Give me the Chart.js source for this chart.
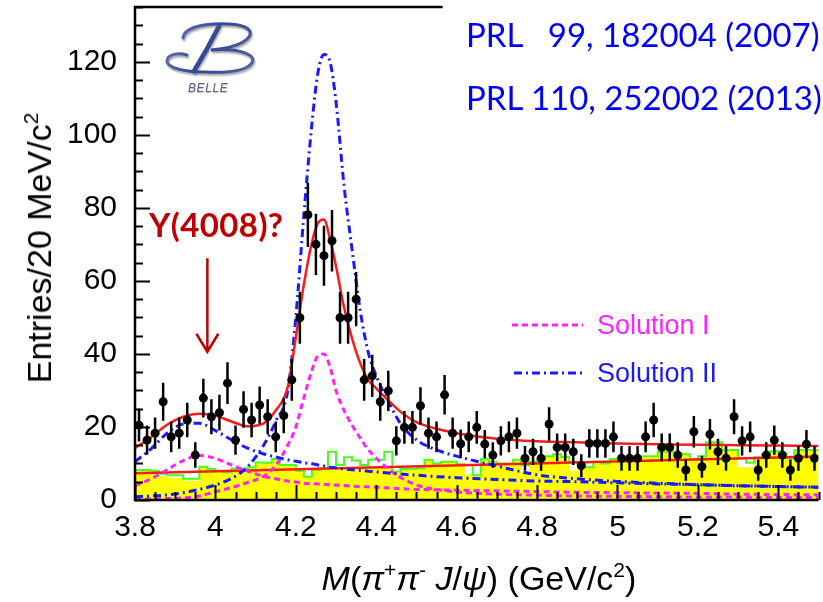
<!DOCTYPE html>
<html>
<head>
<meta charset="utf-8">
<script src="https://cdn.jsdelivr.net/npm/chart.js@4.4.1/dist/chart.umd.min.js"></script>
<style>
  html, body { margin: 0; padding: 0; background: #fff; }
  #wrap { position: relative; width: 823px; height: 602px; overflow: hidden; }
  #chart { position: absolute; left: 0; top: 0; }
  .txt { position: absolute; white-space: pre; line-height: 1; }
  .sup { font-size: 0.62em; position: relative; top: -0.62em; }
  .sans { font-family: 'Liberation Sans', Arial, sans-serif; }
  .cal { font-family: Lato, 'Open Sans', sans-serif; }
</style>
</head>
<body>
<div id="wrap">
  <canvas id="chart" width="823" height="602"></canvas>
  <div class="txt sans" id="ytitle" style="font-size:34px;left:39px;top:248px;transform:translate(-50%,-50%) rotate(-90deg);">Entries/20 MeV/c<span class="sup">2</span></div>
  <div class="txt sans" id="xtitle" style="font-size:34px;left:479px;top:561px;transform:translateX(-50%);"><i>M</i>(<i>π</i><span class="sup">+</span><i>π</i><span class="sup">-</span> <i>J</i>/<i>ψ</i>) (GeV/c<span class="sup">2</span>)</div>
  <div class="txt cal" style="font-size:33px;left:466px;top:18px;color:#0000ff;">PRL   99, 182004 (2007)</div>
  <div class="txt cal" style="font-size:33px;left:466px;top:81px;color:#0000ff;">PRL 110, 252002 (2013)</div>
  <div class="txt cal" style="font-size:33px;font-weight:bold;left:149px;top:208px;color:#c00000;letter-spacing:0.4px;">Y(4008)?</div>
  <div class="txt sans" style="font-size:27px;left:597px;top:312px;color:#ff22ff;">Solution I</div>
  <div class="txt sans" style="font-size:27px;left:597px;top:360px;color:#1a1aff;">Solution II</div>
  <div class="txt sans" style="font-size:12px;font-style:italic;left:188px;top:82px;color:#5d6488;letter-spacing:0.6px;text-shadow:0 1px 1px #bbb;">BELLE</div>
</div>
<script>
// bin centres (20 MeV bins) and measured entries
const massBins = [
  3.81, 3.83, 3.85, 3.87, 3.89, 3.91, 3.93, 3.95, 3.97, 3.99,
  4.01, 4.03, 4.05, 4.07, 4.09, 4.11, 4.13, 4.15, 4.17, 4.19,
  4.21, 4.23, 4.25, 4.27, 4.29, 4.31, 4.33, 4.35, 4.37, 4.39,
  4.41, 4.43, 4.45, 4.47, 4.49, 4.51, 4.53, 4.55, 4.57, 4.59,
  4.61, 4.63, 4.65, 4.67, 4.69, 4.71, 4.73, 4.75, 4.77, 4.79,
  4.81, 4.83, 4.85, 4.87, 4.89, 4.91, 4.93, 4.95, 4.97, 4.99,
  5.01, 5.03, 5.05, 5.07, 5.09, 5.11, 5.13, 5.15, 5.17, 5.19,
  5.21, 5.23, 5.25, 5.27, 5.29, 5.31, 5.33, 5.35, 5.37, 5.39,
  5.41, 5.43, 5.45, 5.47, 5.49
];
const entries = [
  20.5, 16.4, 18.3, 26.9, 17.3, 18.3, 21.9, 12.3, 27.9, 22.8,
  23.9, 32.0, 16.4, 24.8, 21.9, 26.0, 22.8, 17.3, 23.1, 32.9,
  49.9, 78.1, 70.0, 66.9, 71.0, 49.9, 49.9, 55.0, 32.9, 34.0,
  26.9, 29.9, 16.2, 19.9, 19.9, 25.8, 18.3, 17.3, 28.8, 18.3,
  15.4, 17.3, 19.9, 15.3, 12.3, 16.2, 17.3, 18.3, 11.4, 13.2,
  11.4, 20.8, 14.4, 14.4, 13.2, 9.4, 15.5, 15.5, 15.5, 17.3,
  11.4, 11.4, 11.4, 17.3, 21.9, 14.4, 14.4, 12.3, 8.2, 18.7,
  9.1, 18.0, 13.2, 11.4, 22.8, 16.2, 17.3, 8.2, 12.3, 16.4,
  12.3, 8.2, 11.4, 15.3, 11.4
];
const entryErrors = [
  4.5, 4.0, 4.3, 5.2, 4.2, 4.3, 4.7, 3.5, 5.3, 4.8,
  4.9, 5.7, 4.0, 5.0, 4.7, 5.1, 4.8, 4.2, 4.8, 5.7,
  7.1, 8.8, 8.4, 8.2, 8.4, 7.1, 7.1, 7.4, 5.7, 5.8,
  5.2, 5.5, 4.0, 4.5, 4.5, 5.1, 4.3, 4.2, 5.4, 4.3,
  3.9, 4.2, 4.5, 3.9, 3.5, 4.0, 4.2, 4.3, 3.4, 3.6,
  3.4, 4.6, 3.8, 3.8, 3.6, 3.1, 3.9, 3.9, 3.9, 4.2,
  3.4, 3.4, 3.4, 4.2, 4.7, 3.8, 3.8, 3.5, 2.9, 4.3,
  3.0, 4.2, 3.6, 3.4, 4.8, 4.0, 4.2, 2.9, 3.5, 4.0,
  3.5, 2.9, 3.4, 3.9, 3.4
];
// background histograms (same binning)
const sidebandYellow = [
  8.2, 8.2, 8.0, 6.5, 6.0, 6.0, 5.3, 5.3, 9.1, 8.5,
  8.0, 7.6, 8.6, 8.6, 9.0, 10.3, 10.2, 11.2, 9.6, 9.6,
  8.0, 6.4, 8.2, 8.6, 8.6, 8.6, 8.8, 8.8, 8.6, 8.8,
  9.0, 9.0, 7.8, 8.5, 8.5, 8.7, 11.0, 10.0, 10.5, 10.5,
  9.8, 7.0, 6.8, 11.2, 10.5, 10.0, 10.0, 11.0, 7.5, 10.5,
  11.0, 12.0, 12.5, 11.8, 8.0, 10.0, 9.0, 10.5, 10.0, 11.2,
  11.5, 11.6, 12.0, 12.0, 12.0, 13.2, 13.2, 12.8, 12.5, 11.2,
  12.0, 15.8, 15.8, 13.7, 13.7, 9.0, 9.0, 11.7, 12.5, 13.4,
  12.8, 11.4, 13.7, 13.7, 13.7
];
const histGreen = [
  8.2, 8.2, 8.0, 7.2, 6.8, 6.8, 5.8, 5.8, 9.1, 8.5,
  8.0, 7.6, 8.6, 8.6, 9.0, 10.3, 10.2, 11.2, 9.6, 9.6,
  8.0, 6.4, 8.2, 8.6, 13.2, 9.6, 11.7, 10.8, 9.6, 11.0,
  11.0, 13.2, 7.8, 8.5, 8.5, 8.7, 11.0, 10.0, 10.5, 10.5,
  9.8, 9.6, 6.8, 11.2, 10.5, 10.0, 10.0, 11.0, 9.5, 10.5,
  11.0, 12.0, 12.5, 11.8, 10.5, 10.0, 9.0, 10.5, 10.0, 11.2,
  11.5, 11.6, 12.0, 12.0, 12.0, 13.2, 13.2, 12.8, 12.5, 11.2,
  12.0, 15.8, 15.8, 13.7, 13.7, 11.5, 10.2, 11.7, 12.5, 13.4,
  12.8, 11.4, 13.7, 13.7, 13.7
];
const binHalfWidth = 0.01;

// fit curves, sampled off the figure
const curveMass = [
  3.80, 3.84, 3.88, 3.92, 3.96, 4.00, 4.04, 4.08, 4.12, 4.15,
  4.18, 4.20, 4.22, 4.24, 4.255, 4.27, 4.285, 4.30, 4.32, 4.34,
  4.36, 4.38, 4.40, 4.43, 4.46, 4.50, 4.55, 4.60, 4.70, 4.80,
  4.90, 5.00, 5.10, 5.20, 5.30, 5.40, 5.50
];
const fitTotal = [
  14.2, 17.2, 20.6, 22.8, 23.6, 23.1, 21.5, 20.2, 21.0, 24.5,
  31.0, 44.5, 59.0, 70.5, 75.8, 76.8, 71.5, 64.0, 52.7, 44.2,
  37.5, 32.9, 30.6, 27.3, 24.2, 21.3, 19.5, 18.3, 16.8, 16.1,
  15.8, 15.5, 15.3, 15.1, 15.0, 14.9, 14.8
];
const sol1Y4008 = [
  4.0, 5.8, 8.3, 10.8, 12.2, 11.4, 9.6, 7.9, 6.5, 5.8,
  5.2, 4.9, 4.6, 4.5, 4.4, 4.3, 4.2, 4.1, 4.0, 3.8,
  3.7, 3.6, 3.5, 3.3, 3.1, 2.9, 2.8, 2.7, 2.5, 2.3,
  2.1, 2.0, 1.9, 1.8, 1.6, 1.5, 1.4
];
const sol1Y4260 = [
  0.2, 0.3, 0.4, 0.6, 1.1, 2.3, 3.4, 4.8, 6.5, 9.5,
  15.0, 20.0, 28.0, 35.5, 39.5, 40.0, 36.5, 30.0, 24.5, 20.5,
  17.0, 13.8, 11.5, 8.5, 6.2, 4.1, 2.9, 2.2, 1.6, 1.3,
  1.1, 1.0, 0.9, 0.8, 0.8, 0.7, 0.7
];
const sol2Y4008 = [
  10.5, 14.0, 18.3, 20.8, 21.0, 19.0, 16.5, 14.2, 12.6, 11.8,
  11.0, 10.6, 10.2, 9.9, 9.6, 9.3, 9.0, 8.8, 8.5, 8.3,
  8.1, 7.9, 7.7, 7.4, 7.1, 6.8, 6.4, 6.1, 5.6, 5.2,
  5.0, 4.7, 4.4, 4.2, 3.9, 3.7, 3.5
];
const sol2Y4260 = [
  0.9, 1.1, 1.4, 2.0, 2.9, 4.1, 5.9, 9.1, 15.0, 21.5,
  30.0, 50.0, 78.0, 103.0, 117.0, 122.0, 120.0, 109.0, 86.0, 68.5,
  52.0, 40.5, 34.0, 27.0, 21.0, 16.5, 13.7, 12.0, 9.3, 6.9,
  5.8, 5.1, 4.6, 4.2, 3.9, 3.7, 3.5
];
const bgMass = [3.80, 5.50];
const bgLevel = [7.3, 11.9];

// axes
const xTickValues = [3.8, 4.0, 4.2, 4.4, 4.6, 4.8, 5.0, 5.2, 5.4];
const xTickLabels = ['3.8', '4', '4.2', '4.4', '4.6', '4.8', '5', '5.2', '5.4'];
const yTickValues = [0, 20, 40, 60, 80, 100, 120];
const yTickLabels = ['0', '20', '40', '60', '80', '100', '120'];

// annotation arrow under "Y(4008)?"
const arrowMass = 3.98;
const arrowFrom = 66.2;
const arrowTo = 40.6;

const RED = '#ff1a1a';
const MAGENTA = '#ff22ff';
const BLUE = '#1a1aff';
const MAG_DASH = [6, 4];
const BLUE_DASH = [8, 4, 2, 4];

function xy(xs, ys) {
  return xs.map((x, i) => ({ x: x, y: ys[i] }));
}
function histSteps(centres, vals) {
  const pts = centres.map((c, i) => ({ x: c - binHalfWidth, y: vals[i] }));
  pts.push({ x: centres[centres.length - 1] + binHalfWidth, y: vals[vals.length - 1] });
  return pts;
}
function errorSegments() {
  const pts = [];
  massBins.forEach((c, i) => {
    pts.push({ x: c, y: entries[i] - entryErrors[i] });
    pts.push({ x: c, y: entries[i] + entryErrors[i] });
    pts.push({ x: c, y: null });
  });
  return pts;
}
function curve(label, ys, color, dash, order) {
  return {
    label: label,
    data: xy(curveMass, ys),
    borderColor: color,
    borderWidth: 3,
    borderDash: dash,
    cubicInterpolationMode: 'monotone',
    pointRadius: 0,
    fill: false,
    order: order,
  };
}

// Belle logo, drawn as a few swash strokes
function drawLogo(ctx) {
  ctx.save();
  var g = ctx.createLinearGradient(165, 22, 255, 74);
  g.addColorStop(0, '#6d7cc0');
  g.addColorStop(0.5, '#34449a');
  g.addColorStop(1, '#56659f');
  ctx.strokeStyle = g;
  ctx.lineCap = 'round';
  ctx.shadowColor = 'rgba(90,90,90,0.55)';
  ctx.shadowOffsetX = 1;
  ctx.shadowOffsetY = 2;
  ctx.shadowBlur = 2;
  ctx.lineWidth = 4.5;
  ctx.beginPath();
  ctx.moveTo(219, 26);
  ctx.quadraticCurveTo(208, 48, 194, 71);
  ctx.stroke();
  ctx.lineWidth = 3;
  ctx.beginPath();
  ctx.moveTo(183, 38);
  ctx.bezierCurveTo(184, 27, 205, 23, 228, 24);
  ctx.bezierCurveTo(252, 25, 256, 34, 243, 42);
  ctx.bezierCurveTo(235, 47, 222, 49, 211, 50);
  ctx.bezierCurveTo(240, 48, 259, 55, 251, 64);
  ctx.bezierCurveTo(245, 71, 226, 73, 205, 72);
  ctx.bezierCurveTo(185, 72, 167, 68, 167, 61);
  ctx.bezierCurveTo(167, 55, 177, 52, 187, 55);
  ctx.stroke();
  ctx.restore();
}

var frame = {
  id: 'frame',
  afterDatasetsDraw(chart) {
    var ctx = chart.ctx;
    var a = chart.chartArea;
    var x = chart.scales.x;
    var y = chart.scales.y;
    ctx.save();
    ctx.strokeStyle = '#000';
    ctx.lineWidth = 2;
    ctx.setLineDash([]);
    ctx.beginPath();
    for (var v = 0; v <= 135; v += 5) {
      var py = Math.round(y.getPixelForValue(v)) + 0.5;
      var len = v % 20 === 0 ? 15 : 8;
      ctx.moveTo(a.left, py);
      ctx.lineTo(a.left + len, py);
    }
    for (var k = 0; k <= 34; k++) {
      var m = 3.8 + k * 0.05;
      var px = Math.round(x.getPixelForValue(m)) + 0.5;
      var major = k % 4 === 0;
      ctx.moveTo(px, a.bottom);
      ctx.lineTo(px, a.bottom - (major ? 15 : 8));
    }
    ctx.stroke();

    // frame: left, bottom and the visible part of the top edge
    ctx.lineWidth = 2.5;
    ctx.beginPath();
    ctx.moveTo(x.getPixelForValue(4.565), a.top);
    ctx.lineTo(a.left, a.top);
    ctx.lineTo(a.left, a.bottom);
    ctx.lineTo(a.right, a.bottom);
    ctx.stroke();

    // legend samples
    ctx.lineWidth = 3;
    ctx.strokeStyle = MAGENTA;
    ctx.setLineDash(MAG_DASH);
    ctx.beginPath();
    ctx.moveTo(512, 325);
    ctx.lineTo(583, 325);
    ctx.stroke();
    ctx.strokeStyle = BLUE;
    ctx.setLineDash(BLUE_DASH);
    ctx.beginPath();
    ctx.moveTo(514, 373);
    ctx.lineTo(583, 373);
    ctx.stroke();

    // arrow
    ctx.setLineDash([]);
    ctx.strokeStyle = '#c00000';
    ctx.lineWidth = 2.5;
    var ax = x.getPixelForValue(arrowMass);
    var ay0 = y.getPixelForValue(arrowFrom);
    var ay1 = y.getPixelForValue(arrowTo);
    ctx.beginPath();
    ctx.moveTo(ax, ay0);
    ctx.lineTo(ax, ay1);
    ctx.moveTo(ax - 11, ay1 - 18);
    ctx.lineTo(ax, ay1);
    ctx.lineTo(ax + 11, ay1 - 18);
    ctx.stroke();
    ctx.restore();

    drawLogo(ctx);
  }
};

const tickFont = { family: "'Liberation Sans', Arial, sans-serif", size: 30 };

new Chart(document.getElementById('chart'), {
  type: 'line',
  data: {
    datasets: [
      {
        label: 'Data',
        data: xy(massBins, entries),
        showLine: false,
        pointRadius: 4.5,
        pointBackgroundColor: '#000',
        pointBorderColor: '#000',
        pointBorderWidth: 0,
        order: 0,
      },
      {
        label: 'errors',
        data: errorSegments(),
        borderColor: '#000',
        borderWidth: 2.5,
        pointRadius: 0,
        spanGaps: false,
        fill: false,
        order: 1,
      },
      {
        label: 'Fit',
        data: xy(curveMass, fitTotal),
        borderColor: RED,
        borderWidth: 2.5,
        cubicInterpolationMode: 'monotone',
        pointRadius: 0,
        fill: false,
        order: 2,
      },
      curve('Solution II, Y(4260)', sol2Y4260, BLUE, BLUE_DASH, 3),
      curve('Solution II, Y(4008)', sol2Y4008, BLUE, BLUE_DASH, 3),
      curve('Solution I, Y(4260)', sol1Y4260, MAGENTA, MAG_DASH, 4),
      curve('Solution I, Y(4008)', sol1Y4008, MAGENTA, MAG_DASH, 4),
      {
        label: 'Background',
        data: xy(bgMass, bgLevel),
        borderColor: RED,
        borderWidth: 2.5,
        pointRadius: 0,
        fill: false,
        order: 5,
      },
      {
        label: 'histogram',
        data: histSteps(massBins, histGreen),
        stepped: true,
        borderColor: '#44ff22',
        borderWidth: 2,
        pointRadius: 0,
        fill: false,
        order: 6,
      },
      {
        label: 'sidebands',
        data: histSteps(massBins, sidebandYellow),
        stepped: true,
        borderWidth: 0,
        borderColor: 'rgba(0,0,0,0)',
        backgroundColor: '#ffff00',
        pointRadius: 0,
        fill: 'origin',
        order: 7,
      },
    ],
  },
  options: {
    responsive: false,
    animation: false,
    events: [],
    layout: { padding: { left: 0, right: 0, top: 7, bottom: 0 } },
    plugins: { legend: { display: false }, tooltip: { enabled: false } },
    scales: {
      x: {
        type: 'linear',
        min: 3.8,
        max: 5.5,
        grid: { display: false, drawTicks: false },
        border: { display: false },
        afterBuildTicks: (scale) => { scale.ticks = xTickValues.map((v) => ({ value: v })); },
        afterFit: (scale) => {
          scale.height = 102;
          scale.paddingLeft = 0;
          scale.paddingRight = 0;
        },
        ticks: {
          font: tickFont,
          color: '#000',
          padding: 10,
          maxRotation: 0,
          autoSkip: false,
          callback: (v) => xTickLabels[xTickValues.indexOf(Math.round(v * 10) / 10)],
        },
      },
      y: {
        type: 'linear',
        min: 0,
        max: 135,
        grid: { display: false, drawTicks: false },
        border: { display: false },
        afterBuildTicks: (scale) => { scale.ticks = yTickValues.map((v) => ({ value: v })); },
        afterFit: (scale) => {
          scale.width = 135;
          scale.paddingTop = 0;
          scale.paddingBottom = 0;
        },
        ticks: {
          font: tickFont,
          color: '#000',
          padding: 18,
          autoSkip: false,
          callback: (v) => yTickLabels[yTickValues.indexOf(v)],
        },
      },
    },
  },
  plugins: [frame],
});
</script>
</body>
</html>
